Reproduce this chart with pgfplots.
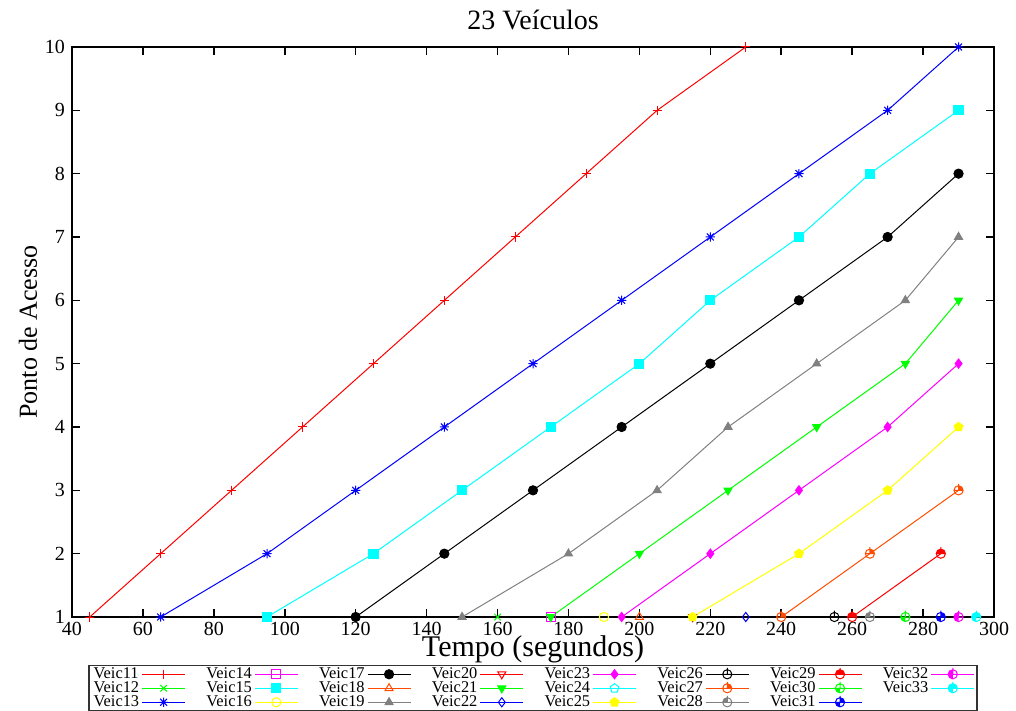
\documentclass[border=0pt]{standalone}
\usepackage{fontspec}
\setmainfont{Liberation Serif}
\usepackage{pgfplots}
\pgfplotsset{compat=1.18}

\definecolor{gpred}{rgb}{1,0,0}
\definecolor{gpgreen}{rgb}{0,1,0}
\definecolor{gpblue}{rgb}{0,0,1}
\definecolor{gpmag}{rgb}{1,0,1}
\definecolor{gpcyan}{rgb}{0,1,1}
\definecolor{gpyel}{rgb}{1,1,0}
\definecolor{gpblack}{rgb}{0,0,0}
\definecolor{gporange}{rgb}{1,0.3,0}
\definecolor{gpgray}{rgb}{0.5,0.5,0.5}

% gnuplot-like point types
\pgfdeclareplotmark{gpstar}{%
  \pgfpathmoveto{\pgfpoint{-\pgfplotmarksize}{0pt}}\pgfpathlineto{\pgfpoint{\pgfplotmarksize}{0pt}}%
  \pgfpathmoveto{\pgfpoint{0pt}{-\pgfplotmarksize}}\pgfpathlineto{\pgfpoint{0pt}{\pgfplotmarksize}}%
  \pgfpathmoveto{\pgfpoint{-.75\pgfplotmarksize}{-.75\pgfplotmarksize}}\pgfpathlineto{\pgfpoint{.75\pgfplotmarksize}{.75\pgfplotmarksize}}%
  \pgfpathmoveto{\pgfpoint{-.75\pgfplotmarksize}{.75\pgfplotmarksize}}\pgfpathlineto{\pgfpoint{.75\pgfplotmarksize}{-.75\pgfplotmarksize}}%
  \pgfusepathqstroke}
\newcommand\gpquad[2]{\pgfpathmoveto{\pgfpointorigin}\pgfpathlineto{\pgfpointpolar{#1}{\pgfplotmarksize}}\pgfpatharc{#1}{#2}{\pgfplotmarksize}\pgfpathclose}
\newcommand\gpring{\pgfpathcircle{\pgfpointorigin}{\pgfplotmarksize}%
  \pgfpathmoveto{\pgfpointorigin}\pgfpathlineto{\pgfpoint{0pt}{1.4\pgfplotmarksize}}%
  \pgfpathmoveto{\pgfpoint{-\pgfplotmarksize}{0pt}}\pgfpathlineto{\pgfpoint{\pgfplotmarksize}{0pt}}%
  \pgfusepathqstroke}
\pgfdeclareplotmark{cq0}{\gpring}
\pgfdeclareplotmark{cq1}{\gpquad{0}{90}\pgfusepathqfill\gpring}
\pgfdeclareplotmark{cq2}{\gpquad{90}{180}\pgfusepathqfill\gpring}
\pgfdeclareplotmark{cq3}{\gpquad{0}{90}\gpquad{90}{180}\pgfusepathqfill\gpring}
\pgfdeclareplotmark{cq4}{\gpquad{180}{270}\pgfusepathqfill\gpring}
\pgfdeclareplotmark{cq5}{\gpquad{0}{90}\gpquad{180}{270}\pgfusepathqfill\gpring}
\pgfdeclareplotmark{cq6}{\gpquad{90}{180}\gpquad{180}{270}\pgfusepathqfill\gpring}
\pgfdeclareplotmark{cq7}{\gpquad{0}{90}\gpquad{90}{180}\gpquad{180}{270}\pgfusepathqfill\gpring}

\begin{document}
\begin{tikzpicture}
\begin{axis}[
    width=461pt, height=285pt, scale only axis,
    xmin=40, xmax=300, ymin=1, ymax=10,
    xtick={40,60,...,300}, ytick={1,2,...,10},
    clip=false,
    axis line style={line width=1pt},
    tick style={line width=0.8pt, black},
    major tick length=4pt,
    tick label style={font=\fontsize{10}{12}\selectfont},
    xticklabel style={yshift=1pt},
    /pgf/number format/assume math mode=true,
    title={23 Veículos},
    title style={font=\fontsize{14}{16}\selectfont, at={(axis description cs:0.5,1)}, anchor=base, yshift=2.5pt},
    xlabel={Tempo (segundos)},
    xlabel style={font=\fontsize{15}{17}\selectfont, at={(axis description cs:0.5,0)}, anchor=base, yshift=-19.5pt},
    ylabel={Ponto de Acesso},
    ylabel style={font=\fontsize{13}{15}\selectfont, at={(axis description cs:0,0.5)}, anchor=center, yshift=22pt},
    every axis plot/.append style={line width=0.5pt, mark size=2.3pt, mark options={solid}},
    legend columns=3, transpose legend,
    legend plot pos=right,
    legend cell align=left,
    legend image code/.code={\draw[mark repeat=2, mark phase=2] plot coordinates {(0pt,0pt) (10.75pt,0pt) (21.5pt,0pt)};},
    legend style={at={(0.5,-0.084)}, anchor=north, font=\fontsize{8.2}{8.2}\selectfont,
        draw=black!80, line width=0.8pt, inner xsep=1pt, inner ysep=0.8pt, row sep=0pt,
        nodes={inner xsep=1.2pt, inner ysep=0pt, text height=5.6pt, text depth=1.4pt},
        /tikz/every even column/.append style={column sep=9.2pt}},
]
\addplot[color=gpred, mark=+] coordinates {(45,1) (65,2) (85,3) (105,4) (125,5) (145,6) (165,7) (185,8) (205,9) (230,10)};
\addlegendentry{Veic11}
\addplot[color=gpgreen, mark=x] coordinates {(160,1)};
\addlegendentry{Veic12}
\addplot[color=gpblue, mark=gpstar] coordinates {(65,1) (95,2) (120,3) (145,4) (170,5) (195,6) (220,7) (245,8) (270,9) (290,10)};
\addlegendentry{Veic13}
\addplot[color=gpmag, mark=square] coordinates {(175,1)};
\addlegendentry{Veic14}
\addplot[color=gpcyan, mark=square*] coordinates {(95,1) (125,2) (150,3) (175,4) (200,5) (220,6) (245,7) (265,8) (290,9)};
\addlegendentry{Veic15}
\addplot[color=gpyel, mark=o] coordinates {(190,1)};
\addlegendentry{Veic16}
\addplot[color=gpblack, mark=*] coordinates {(120,1) (145,2) (170,3) (195,4) (220,5) (245,6) (270,7) (290,8)};
\addlegendentry{Veic17}
\addplot[color=gporange, mark=triangle] coordinates {(200,1)};
\addlegendentry{Veic18}
\addplot[color=gpgray, mark=triangle*] coordinates {(150,1) (180,2) (205,3) (225,4) (250,5) (275,6) (290,7)};
\addlegendentry{Veic19}
\addplot[color=gpred, mark=triangle, mark options={rotate=180}] coordinates {(215,1)};
\addlegendentry{Veic20}
\addplot[color=gpgreen, mark=triangle*, mark options={rotate=180}] coordinates {(175,1) (200,2) (225,3) (250,4) (275,5) (290,6)};
\addlegendentry{Veic21}
\addplot[color=gpblue, mark=diamond] coordinates {(230,1)};
\addlegendentry{Veic22}
\addplot[color=gpmag, mark=diamond*] coordinates {(195,1) (220,2) (245,3) (270,4) (290,5)};
\addlegendentry{Veic23}
\addlegendimage{color=gpcyan, line width=0.5pt, mark=pentagon, mark size=2.3pt}
\addlegendentry{Veic24}
\addplot[color=gpyel, mark=pentagon*] coordinates {(215,1) (245,2) (270,3) (290,4)};
\addlegendentry{Veic25}
\addplot[color=gpblack, mark=cq0] coordinates {(255,1)};
\addlegendentry{Veic26}
\addplot[color=gporange, mark=cq1] coordinates {(240,1) (265,2) (290,3)};
\addlegendentry{Veic27}
\addplot[color=gpgray, mark=cq2] coordinates {(265,1)};
\addlegendentry{Veic28}
\addplot[color=gpred, mark=cq3] coordinates {(260,1) (285,2)};
\addlegendentry{Veic29}
\addplot[color=gpgreen, mark=cq4] coordinates {(275,1)};
\addlegendentry{Veic30}
\addplot[color=gpblue, mark=cq5] coordinates {(285,1)};
\addlegendentry{Veic31}
\addplot[color=gpmag, mark=cq6] coordinates {(290,1)};
\addlegendentry{Veic32}
\addplot[color=gpcyan, mark=cq7] coordinates {(295,1)};
\addlegendentry{Veic33}
\end{axis}
\pgfresetboundingbox
\path[use as bounding box] (current axis.south west) ++(-36pt,-47pt) rectangle ++(508pt,355.5pt);
\end{tikzpicture}
\end{document}
